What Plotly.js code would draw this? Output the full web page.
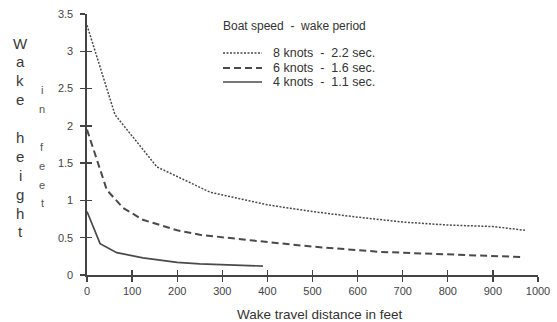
<!DOCTYPE html>
<html><head><meta charset="utf-8">
<script src="https://cdn.plot.ly/plotly-3.0.1.min.js"></script>
<style>html,body{margin:0;padding:0;background:#fff}#chart{width:557px;height:322px}</style>
</head><body><div id="chart"></div>
<script>
// Data
const x8 = [0, 62, 155, 206, 273, 401, 501, 594, 700, 800, 900, 971];
const y8 = [3.35, 2.15, 1.45, 1.30, 1.11, 0.94, 0.85, 0.78, 0.71, 0.67, 0.65, 0.60];
const x6 = [0, 22, 44, 80, 124, 200, 250, 355, 501, 650, 798, 965];
const y6 = [1.95, 1.54, 1.14, 0.90, 0.74, 0.60, 0.54, 0.47, 0.38, 0.31, 0.28, 0.24];
const x4 = [0, 29, 66, 124, 200, 250, 390];
const y4 = [0.85, 0.42, 0.30, 0.23, 0.17, 0.15, 0.12];
const seriesNames = ["8 knots\u00a0\u00a0-\u00a0\u00a02.2 sec.", "6 knots\u00a0\u00a0-\u00a0\u00a01.6 sec.", "4 knots\u00a0\u00a0-\u00a0\u00a01.1 sec."];
const legendTitle = "Boat speed\u00a0\u00a0-\u00a0\u00a0wake period";
const xTicks = [0, 100, 200, 300, 400, 500, 600, 700, 800, 900, 1000];
const yTicks = [0, 0.5, 1, 1.5, 2, 2.5, 3, 3.5];
const yTitle1 = "Wake height";
const yTitle2 = "in feet";
const xTitle = "Wake travel distance in feet";

const FONT = "Liberation Sans, Arial, sans-serif";
const lineCol = "#4a4a4a";
const dashes = ["2px,1.5px", "7px,4px", "solid"];
const widths = [1.5, 2, 1.7];
const xs = [x8, x6, x4], ys = [y8, y6, y4];

const traces = xs.map((xv, i) => ({
  x: xv, y: ys[i], type: "scatter", mode: "lines", name: seriesNames[i],
  line: {color: lineCol, width: widths[i], dash: dashes[i]}, showlegend: false, hoverinfo: "skip"
}));

// plot box in pixels: x0=87, width=451; y0(top)=14, height=261
const W = 451, H = 261, L = 87, T = 14;
const px = p => (p - L) / W;
const py = p => (T + H - p) / H;

const annotations = [];
const shapes = [];
// legend (manual)
annotations.push({xref: "paper", yref: "paper", x: px(221), y: py(26), xanchor: "left", yanchor: "middle",
  text: legendTitle, showarrow: false, font: {family: FONT, size: 12, color: "#333"}});
const legY = [53, 68, 82];
seriesNames.forEach((n, i) => {
  shapes.push({type: "line", xref: "paper", yref: "paper", x0: px(223), x1: px(262), y0: py(legY[i]), y1: py(legY[i]),
    line: {color: lineCol, width: widths[i], dash: dashes[i]}});
  annotations.push({xref: "paper", yref: "paper", x: px(271), y: py(legY[i]), xanchor: "left", yanchor: "middle",
    text: n, showarrow: false, font: {family: FONT, size: 12.5, color: "#333"}});
});
// stacked y title letters
function stack(str, xPix, yStart, step, size, color) {
  let k = 0;
  for (const ch of str) {
    if (ch !== " ") {
      annotations.push({xref: "paper", yref: "paper", x: px(xPix), y: py(yStart + k * step), xanchor: "center", yanchor: "middle",
        text: ch, showarrow: false, font: {family: FONT, size: size, color: color}});
    }
    k++;
  }
}
stack(yTitle1, 20, 43, 18.9, 15, "#3a3a3a");
stack(yTitle2, 42, 90, 18.9, 11, "#555555");
annotations.push({xref: "paper", yref: "paper", x: px(320), y: py(314), xanchor: "center", yanchor: "middle",
  text: xTitle, showarrow: false, font: {family: FONT, size: 13.5, color: "#333"}});

const axBase = {showgrid: false, zeroline: false, showline: true, linecolor: "#444", linewidth: 1.6,
  tickcolor: "#444", tickwidth: 1.4, ticklen: 5, tickfont: {family: FONT, size: 11, color: "#444"}};

const layout = {
  width: 557, height: 322,
  margin: {l: L, r: 557 - L - W, t: T, b: 322 - T - H, pad: 0},
  paper_bgcolor: "#fff", plot_bgcolor: "#fff",
  showlegend: false,
  xaxis: Object.assign({}, axBase, {range: [0, 1000], tickmode: "array", tickvals: xTicks, ticks: "outside"}),
  yaxis: Object.assign({}, axBase, {range: [0, 3.5], tickmode: "array", tickvals: yTicks, ticks: "outside",
    ticklabelstandoff: 5, ticktext: yTicks.map(v => String(v))}),
  xaxis2: Object.assign({}, axBase, {overlaying: "x", range: [0, 1000], tickmode: "array", tickvals: xTicks, ticks: "inside", showticklabels: false, anchor: "y"}),
  yaxis2: Object.assign({}, axBase, {overlaying: "y", range: [0, 3.5], tickmode: "array", tickvals: yTicks, ticks: "inside", showticklabels: false, anchor: "x"}),
  annotations: annotations, shapes: shapes
};
// dummy trace to activate overlay axes
traces.push({x: [null], y: [null], xaxis: "x2", yaxis: "y2", type: "scatter", mode: "lines", showlegend: false, hoverinfo: "skip"});

Plotly.newPlot("chart", traces, layout, {staticPlot: true, displayModeBar: false});
</script></body></html>
